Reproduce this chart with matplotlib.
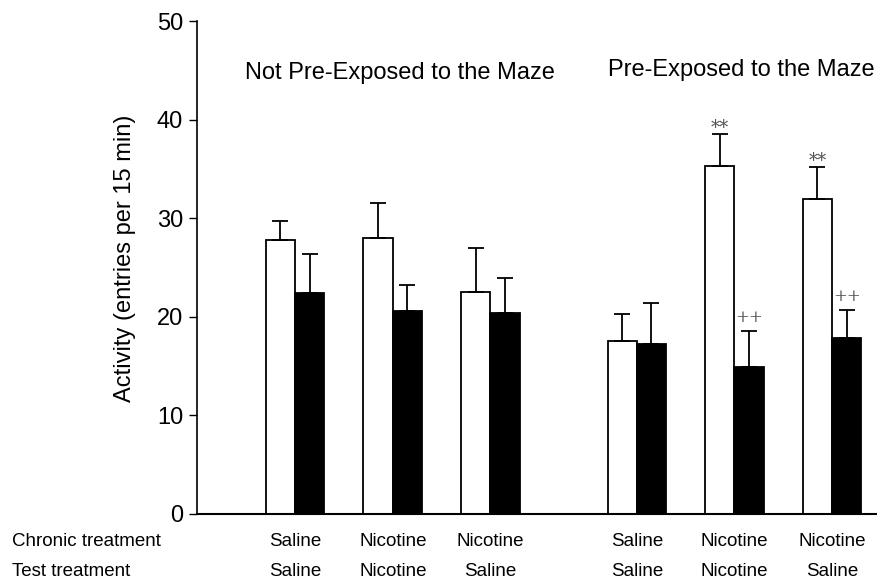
import numpy as np
import matplotlib

matplotlib.use("Agg")
import matplotlib.pyplot as plt
from matplotlib.transforms import blended_transform_factory

plt.rcParams["font.family"] = ["Liberation Sans", "DejaVu Sans"]

# group order: not pre-exposed (3), then pre-exposed (3)
chronic = ["Saline", "Nicotine", "Nicotine", "Saline", "Nicotine", "Nicotine"]
test = ["Saline", "Nicotine", "Saline", "Saline", "Nicotine", "Saline"]

white_means = [27.8, 28.0, 22.5, 17.5, 35.3, 31.9]
white_err = [1.9, 3.5, 4.5, 2.8, 3.2, 3.3]
black_means = [22.4, 20.6, 20.4, 17.2, 14.9, 17.8]
black_err = [4.0, 2.6, 3.5, 4.2, 3.7, 2.9]

white_marks = ["", "", "", "", "**", "**"]
black_marks = ["", "", "", "", "++", "++"]

x = np.array([0, 1, 2, 3.5, 4.5, 5.5])
w = 0.30

fig = plt.figure(figsize=(8.77, 5.83), dpi=100)
ax = fig.add_axes([197 / 877, 69 / 583, 680 / 877, 493 / 583])

ekw = dict(ecolor="black", elinewidth=1.3, capsize=6, capthick=1.3)
ax.bar(x - w / 2, white_means, w, color="white", edgecolor="black", linewidth=1.3,
       yerr=[np.zeros(6), white_err], error_kw=ekw, zorder=2)
ax.bar(x + w / 2, black_means, w, color="black", edgecolor="black", linewidth=1.3,
       yerr=[np.zeros(6), black_err], error_kw=ekw, zorder=2)

# significance marks above the error bars
for xi, m, e, s in zip(x - w / 2, white_means, white_err, white_marks):
    if s:
        ax.text(xi, m + e - 0.3, s, ha="center", va="bottom", fontsize=13,
                family="DejaVu Serif", color="#555555")
for xi, m, e, s in zip(x + w / 2, black_means, black_err, black_marks):
    if s:
        ax.text(xi, m + e + 0.5, s, ha="center", va="bottom", fontsize=12,
                family="DejaVu Serif", color="#555555")

ax.set_xlim(-1.005, 5.96)
ax.set_ylim(0, 50)
ax.set_yticks([0, 10, 20, 30, 40, 50])
ax.set_xticks([])
ax.tick_params(axis="y", length=6, width=1, pad=4, labelsize=17)
for side in ("top", "right"):
    ax.spines[side].set_visible(False)
ax.spines["left"].set_linewidth(1.2)
ax.spines["bottom"].set_linewidth(1.5)

fig.text(125 / 877, 1 - 258 / 583, "Activity (entries per 15 min)", rotation=90,
         ha="center", va="center", fontsize=17)

ax.text(1.07, 44.7, "Not Pre-Exposed to the Maze", ha="center", va="center", fontsize=17)
ax.text(4.57, 45.0, "Pre-Exposed to the Maze", ha="center", va="center", fontsize=17)

# treatment rows under the axis
fig.text(12 / 877, 1 - 541 / 583, "Chronic treatment", ha="left", va="center", fontsize=13.5)
fig.text(12 / 877, 1 - 571 / 583, "Test treatment", ha="left", va="center", fontsize=13.5)
trans = blended_transform_factory(ax.transData, fig.transFigure)
for xi, c, t in zip(x, chronic, test):
    ax.text(xi, 1 - 541 / 583, c, transform=trans, ha="center", va="center", fontsize=13.5)
    ax.text(xi, 1 - 571 / 583, t, transform=trans, ha="center", va="center", fontsize=13.5)

fig.savefig("out.png", dpi=100)
